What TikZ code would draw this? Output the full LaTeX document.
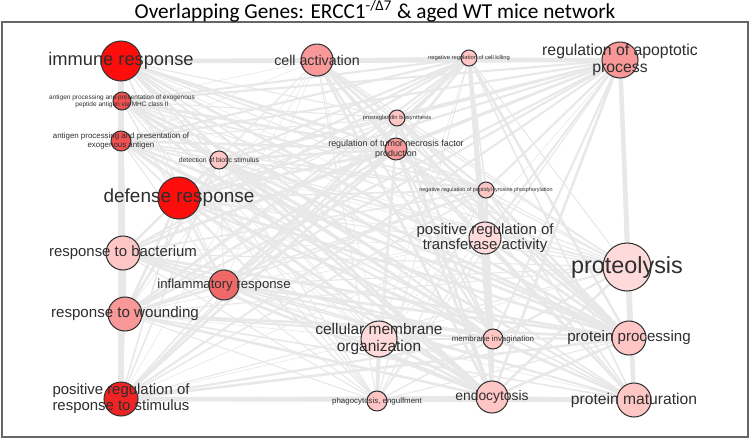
\documentclass[tikz,border=0pt]{standalone}
\usepackage{fontspec}
\setmainfont{Liberation Sans}
\newfontfamily\titlefont{Carlito}
\usetikzlibrary{backgrounds}
\definecolor{linkgray}{RGB}{232,232,232}
\definecolor{hub}{RGB}{255,12,12}
\definecolor{hot}{RGB}{240,36,36}
\definecolor{warm}{RGB}{240,82,82}
\definecolor{mid}{RGB}{240,105,105}
\definecolor{soft}{RGB}{248,152,152}
\definecolor{pale}{RGB}{255,198,198}
\definecolor{faint}{RGB}{255,218,218}

\begin{document}
\begin{tikzpicture}[
    x=0.02cm,
    y=-0.02cm,
    term/.style 2 args={circle, draw=black!80, line width=0.6pt, fill=#2,
      minimum size=#1*0.4mm, inner sep=0pt},
    lbl/.style 2 args={font=\fontsize{#1}{#2}\selectfont, text=black!82,
      align=center, inner sep=0pt},
    link/.style={draw=linkgray, line width=#1},
    frame/.style={draw=black!60, line width=1.1pt}
  ]
    \useasboundingbox (0,0) rectangle (750,440);
    \draw[frame] (2,22) rectangle (748,437);
    \node[font=\titlefont\fontsize{12.1}{13}\selectfont] (title) at (375,11)
      {Overlapping Genes: ERCC1\textsuperscript{-/Δ7} \& aged WT mice network};

    % Terms: name / x / y / radius (px) / fill.
    \foreach \n/\x/\y/\r/\c in {
        immune/121/61/20/hub, mhc/122/101/9/warm, exo/121/141/10/warm,
        biotic/219/160/9/pale, defense/179/198/21/hub,
        bacterium/123/253/17/pale, inflam/224/285/15/mid,
        wounding/125/314/17/soft, posreg/121/399/17/hot,
        cellact/317/60/16/soft, killing/469/58/8/pale,
        prosta/397/118/8/pale, tnf/396/149/11/soft,
        tyrosine/486/190/8/pale, transferase/485/238/16/faint,
        apoptotic/620/60/18/soft, proteolysis/627/267/24/faint,
        processing/629/338/17/pale, maturation/634/400/17/pale,
        membrane/379/339/18/faint, invag/493/339/10/pale,
        phago/377/401/10/pale, endo/492/397/16/pale} {
      \node[term={\r}{\c}] (\n) at (\x,\y) {};
    }

    % Overlap links, all drawn behind the terms.
    \begin{scope}[on background layer]
      \foreach \a [count=\i] in {immune,mhc,exo,biotic,defense,bacterium,
          inflam,wounding,posreg,cellact,killing,prosta,tnf,tyrosine,
          transferase,apoptotic,proteolysis,processing,maturation,membrane,
          invag,phago,endo} {
        \foreach \b [count=\j] in {immune,mhc,exo,biotic,defense,bacterium,
            inflam,wounding,posreg,cellact,killing,prosta,tnf,tyrosine,
            transferase,apoptotic,proteolysis,processing,maturation,membrane,
            invag,phago,endo} {
          \ifnum\j>\i
            \pgfmathsetmacro{\w}{0.35+0.28*mod(\i*5+\j*3,5)}
            \draw[link=\w pt] (\a) -- (\b);
          \fi
        }
      }
      \draw[link=3.4pt] (immune) -- (posreg);
      \draw[link=2.6pt] (immune) -- (apoptotic);
      \draw[link=2.6pt] (posreg) -- (maturation);
      \draw[link=2.6pt] (apoptotic) -- (maturation);
      \draw[link=2.4pt] (killing) -- (transferase);
      \draw[link=2.2pt] (transferase) -- (endo);
      \draw[link=2.2pt] (membrane) -- (phago);
    \end{scope}

    % Labels sit on top of the circles.
    \node[lbl={10.4}{12}] (immune-l) at (immune) {immune response};
    \node[lbl={3.7}{4}] (mhc-l) at (mhc)
      {antigen processing and presentation of exogenous\\peptide antigen via MHC class II};
    \node[lbl={4.5}{5.1}] (exo-l) at (exo)
      {antigen processing and presentation of\\exogenous antigen};
    \node[lbl={3.9}{4.5}] (biotic-l) at (biotic) {detection of biotic stimulus};
    \node[lbl={10.8}{12}] (defense-l) at (defense) {defense response};
    \node[lbl={8.5}{9.5}] (bacterium-l) at (bacterium) {response to bacterium};
    \node[lbl={7.5}{8.5}] (inflam-l) at (inflam) {inflammatory response};
    \node[lbl={8.6}{9.5}] (wounding-l) at (wounding) {response to wounding};
    \node[lbl={8.5}{9.1}] (posreg-l) at (posreg)
      {positive regulation of\\response to stimulus};
    \node[lbl={8.1}{9}] (cellact-l) at (cellact) {cell activation};
    \node[lbl={3.3}{4}] (killing-l) at (killing)
      {negative regulation of cell killing};
    \node[lbl={3.3}{4}] (prosta-l) at (prosta) {prostaglandin biosynthesis};
    \node[lbl={5.1}{5.4}] (tnf-l) at (tnf)
      {regulation of tumor necrosis factor\\production};
    \node[lbl={3.1}{4}] (tyrosine-l) at (tyrosine)
      {negative regulation of peptidyl-tyrosine phosphorylation};
    \node[lbl={8.5}{8.9}] (transferase-l) at (transferase)
      {positive regulation of\\transferase activity};
    \node[lbl={9}{9.5}] (apoptotic-l) at (apoptotic)
      {regulation of apoptotic\\process};
    \node[lbl={13.3}{15}] (proteolysis-l) at (proteolysis) {proteolysis};
    \node[lbl={8.6}{9.5}] (processing-l) at (processing) {protein processing};
    \node[lbl={8.9}{9.5}] (maturation-l) at (maturation) {protein maturation};
    \node[lbl={8.8}{9.2}] (membrane-l) at (membrane)
      {cellular membrane\\organization};
    \node[lbl={4.5}{5}] (invag-l) at (invag) {membrane invagination};
    \node[lbl={4.5}{5}] (phago-l) at (phago) {phagocytosis, engulfment};
    \node[lbl={7.9}{9}] (endo-l) at (endo) {endocytosis};
  \end{tikzpicture}
\end{document}
